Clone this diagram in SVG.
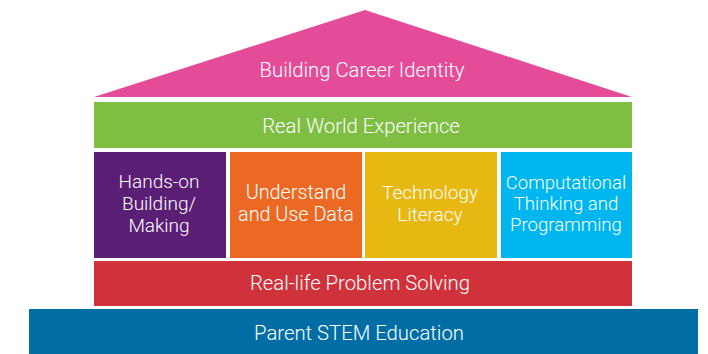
<svg xmlns="http://www.w3.org/2000/svg" width="708" height="354" viewBox="0 0 708 354">
  <style>
    .lbl { font-family: Roboto, "Open Sans", "Liberation Sans", sans-serif; font-size: 19px; font-weight: 300; fill: #FFFFFF; text-anchor: middle; }
    .bar { font-size: 20.3px; }
    .narrow { font-size: 18.6px; }
  </style>
  <rect width="708" height="354" fill="#FFFFFF"/>

  <g id="roof">
    <polygon points="365,10 632,97 94,97" fill="#E44C9A"/>
    <text class="lbl bar" x="362" y="77">Building Career Identity</text>
  </g>

  <g id="real-world-experience">
    <rect x="94" y="102" width="538" height="46" fill="#7DBE43"/>
    <text class="lbl bar" x="361" y="133">Real World Experience</text>
  </g>

  <g id="hands-on">
    <rect x="94" y="152" width="132" height="106" fill="#5A1E75"/>
    <text class="lbl" x="159" y="188">Hands-on</text>
    <text class="lbl" x="159" y="210">Building/</text>
    <text class="lbl" x="159" y="232">Making</text>
  </g>

  <g id="data">
    <rect x="230" y="152" width="132" height="106" fill="#EB6923"/>
    <text class="lbl" x="296" y="199" style="font-size:19.8px">Understand</text>
    <text class="lbl" x="296" y="221" style="font-size:19.8px">and Use Data</text>
  </g>

  <g id="tech-literacy">
    <rect x="365" y="152" width="132" height="106" fill="#E8B812"/>
    <text class="lbl" x="430" y="199">Technology</text>
    <text class="lbl" x="430" y="221">Literacy</text>
  </g>

  <g id="computational">
    <rect x="501" y="152" width="131" height="106" fill="#00B6EE"/>
    <text class="lbl narrow" x="566" y="189">Computational</text>
    <text class="lbl narrow" x="566" y="210">Thinking and</text>
    <text class="lbl narrow" x="566" y="231">Programming</text>
  </g>

  <g id="problem-solving">
    <rect x="94" y="261" width="538" height="45" fill="#D0323B"/>
    <text class="lbl bar" x="360" y="290">Real-life Problem Solving</text>
  </g>

  <g id="parent-education">
    <rect x="29" y="309" width="669" height="45" fill="#006EA5"/>
    <text class="lbl bar" x="359" y="340">Parent STEM Education</text>
  </g>

  <g id="connectors"/>
</svg>
